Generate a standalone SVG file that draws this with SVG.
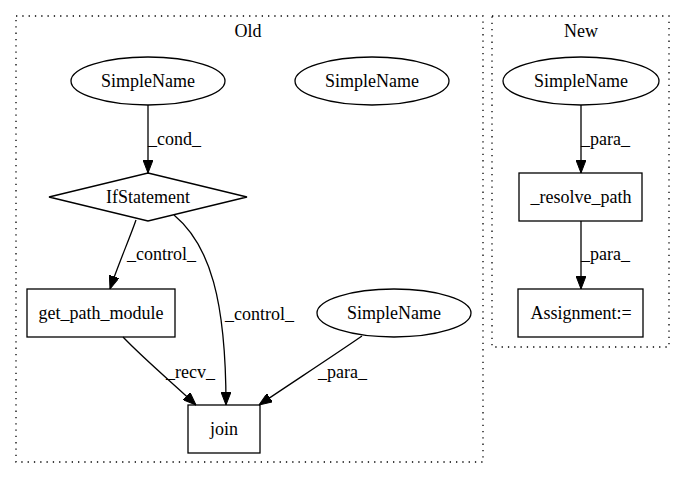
<svg xmlns="http://www.w3.org/2000/svg" width="685" height="480" viewBox="0 0 685 480" font-family="'Liberation Serif', 'Times New Roman', Times, serif" font-size="18">
<style>
text{font-family:'Liberation Serif','Times New Roman',Times,serif;font-size:18px;fill:#000}
.c{text-anchor:middle}
.cl{fill:none;stroke:#000;stroke-dasharray:1.3,5;stroke-width:1.3}
.n{fill:none;stroke:#000;stroke-width:1.3}
.e{fill:none;stroke:#000;stroke-width:1.3}
</style>
<defs>
<marker id="a" viewBox="0 0 13 10" refX="13" refY="5" markerWidth="13" markerHeight="10" markerUnits="userSpaceOnUse" orient="auto">
<path d="M0,0L13,5L0,10z" fill="#000" stroke="#000"/>
</marker>
</defs>
<rect width="685" height="480" fill="#fff"/>
<g id="cluster_old">
<rect class="cl" x="16" y="16" width="467" height="446"/>
<text class="c" x="248" y="37">Old</text>
</g>
<g id="cluster_new">
<rect class="cl" x="492" y="16" width="177" height="331"/>
<text class="c" x="581" y="37">New</text>
</g>
<g id="n_sn1"><ellipse class="n" cx="148" cy="81" rx="77" ry="24"/><text class="c" x="148" y="87">SimpleName</text></g>
<g id="n_sn2"><ellipse class="n" cx="372" cy="81" rx="77" ry="24"/><text class="c" x="372" y="87">SimpleName</text></g>
<g id="n_if"><polygon class="n" points="148,173 247,197 148,221 49,197"/><text class="c" x="148" y="203">IfStatement</text></g>
<g id="n_gpm"><rect class="n" x="27" y="289" width="148" height="48"/><text class="c" x="101" y="319">get_path_module</text></g>
<g id="n_sn3"><ellipse class="n" cx="394" cy="313" rx="77" ry="24"/><text class="c" x="394" y="319">SimpleName</text></g>
<g id="n_join"><rect class="n" x="188" y="405" width="72" height="48"/><text class="c" x="224" y="435">join</text></g>
<g id="n_sn4"><ellipse class="n" cx="581" cy="81" rx="78" ry="24"/><text class="c" x="581" y="87">SimpleName</text></g>
<g id="n_rp"><rect class="n" x="519" y="173" width="123" height="48"/><text class="c" x="581" y="203">_resolve_path</text></g>
<g id="n_asg"><rect class="n" x="518" y="289" width="125" height="48"/><text class="c" x="581" y="319">Assignment:=</text></g>
<g id="edges">
<path class="e" d="M148,105L148,173" marker-end="url(#a)"/>
<text x="148" y="145">_cond_</text>
<path class="e" d="M136,220C129,240 118,265 110,289" marker-end="url(#a)"/>
<text x="127" y="260">_control_</text>
<path class="e" d="M174,215C210,245 226,300 226,405" marker-end="url(#a)"/>
<text x="225" y="320">_control_</text>
<path class="e" d="M123,337C145,360 175,385 196,405" marker-end="url(#a)"/>
<text x="166" y="378">_recv_</text>
<path class="e" d="M362,336C330,358 290,384 259,405" marker-end="url(#a)"/>
<text x="318" y="378">_para_</text>
<path class="e" d="M581,105L581,173" marker-end="url(#a)"/>
<text x="581" y="145">_para_</text>
<path class="e" d="M581,221L581,289" marker-end="url(#a)"/>
<text x="581" y="260">_para_</text>
</g>
</svg>
